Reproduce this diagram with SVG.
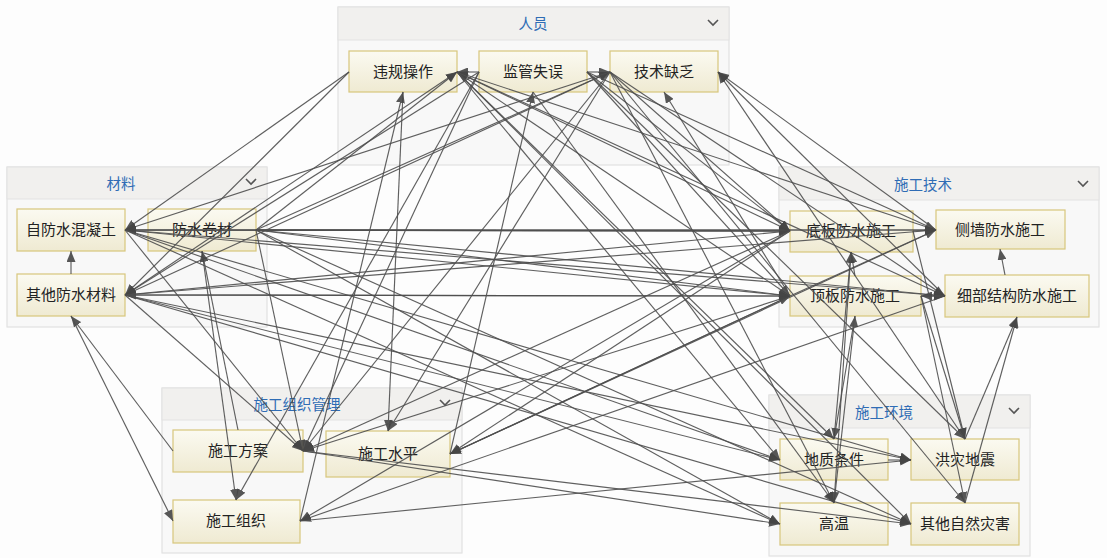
<svg xmlns="http://www.w3.org/2000/svg" width="1107" height="558" viewBox="0 0 1107 558">
<defs>
<linearGradient id="ng" x1="0" y1="0" x2="0" y2="1">
<stop offset="0" stop-color="#fbfaf1"/>
<stop offset="1" stop-color="#efead2"/>
</linearGradient>
<marker id="ah" markerUnits="userSpaceOnUse" markerWidth="11" markerHeight="9" refX="11" refY="4.5" orient="auto">
<path d="M0,0 L11,4.5 L0,9 z" fill="#454545"/>
</marker>
<style>
.panel{fill:#f8f8f8;stroke:#e2e2e2;stroke-width:1.2}
.head{fill:#f1f0ee;stroke:#e2e2e2;stroke-width:1}
.gt{font-family:"Noto Sans CJK SC","Noto Sans",sans-serif;font-size:14.5px;fill:#2f6cb5;text-anchor:middle}
.chev{fill:none;stroke:#555;stroke-width:1.6}
.node rect{fill:url(#ng);stroke:#d8c67c;stroke-width:1.2}
.node text{font-family:"Noto Sans CJK SC","Noto Sans",sans-serif;font-size:15px;fill:#222;text-anchor:middle}
#edges line{stroke:#4f4f4f;stroke-width:1.15;marker-end:url(#ah);opacity:0.9}
</style>
</defs>
<rect x="0" y="0" width="1107" height="558" fill="#fdfdfd"/>
<g id="grp-renyuan">
<rect class="panel" x="338" y="7" width="391" height="158"/>
<rect class="head" x="338" y="7" width="391" height="33"/>
<text class="gt" x="533" y="29">人员</text>
<polyline class="chev" points="708,20 713,25 718,20"/>
</g>
<g id="grp-cailiao">
<rect class="panel" x="7" y="167" width="260" height="160"/>
<rect class="head" x="7" y="167" width="260" height="32"/>
<text class="gt" x="121" y="189">材料</text>
<polyline class="chev" points="246,179 251,184 256,179"/>
</g>
<g id="grp-jishu">
<rect class="panel" x="779" y="167" width="320" height="160"/>
<rect class="head" x="779" y="167" width="320" height="33"/>
<text class="gt" x="923" y="190">施工技术</text>
<polyline class="chev" points="1078,181 1083,186 1088,181"/>
</g>
<g id="grp-zuzhi">
<rect class="panel" x="162" y="388" width="300" height="165"/>
<rect class="head" x="162" y="388" width="300" height="32"/>
<text class="gt" x="297" y="410">施工组织管理</text>
<polyline class="chev" points="440,400 445,405 450,400"/>
</g>
<g id="grp-huanjing">
<rect class="panel" x="769" y="395" width="261" height="161"/>
<rect class="head" x="769" y="395" width="261" height="33"/>
<text class="gt" x="884" y="418">施工环境</text>
<polyline class="chev" points="1009,408 1014,413 1019,408"/>
</g>
<g id="n-weigui" class="node"><rect x="349" y="51" width="108" height="41"/><text x="403" y="77">违规操作</text></g>
<g id="n-jianguan" class="node"><rect x="479" y="51" width="108" height="41"/><text x="533" y="77">监管失误</text></g>
<g id="n-jishu" class="node"><rect x="610" y="51" width="108" height="41"/><text x="664" y="77">技术缺乏</text></g>
<g id="n-zifangshui" class="node"><rect x="17" y="209" width="108" height="42"/><text x="71" y="235">自防水混凝土</text></g>
<g id="n-juancai" class="node"><rect x="148" y="209" width="108" height="42"/><text x="202" y="235">防水卷材</text></g>
<g id="n-qita" class="node"><rect x="17" y="274" width="108" height="42"/><text x="71" y="300">其他防水材料</text></g>
<g id="n-diban" class="node"><rect x="790" y="211" width="123" height="41"/><text x="851" y="236">底板防水施工</text></g>
<g id="n-ceqiang" class="node"><rect x="936" y="210" width="129" height="39"/><text x="1000" y="235">侧墙防水施工</text></g>
<g id="n-dingban" class="node"><rect x="790" y="276" width="131" height="40"/><text x="855" y="301">顶板防水施工</text></g>
<g id="n-xibu" class="node"><rect x="945" y="275" width="144" height="42"/><text x="1017" y="301">细部结构防水施工</text></g>
<g id="n-fangan" class="node"><rect x="173" y="430" width="130" height="42"/><text x="238" y="456">施工方案</text></g>
<g id="n-shuiping" class="node"><rect x="326" y="431" width="124" height="46"/><text x="388" y="459">施工水平</text></g>
<g id="n-zuzhi" class="node"><rect x="173" y="500" width="127" height="43"/><text x="236" y="526">施工组织</text></g>
<g id="n-dizhi" class="node"><rect x="780" y="439" width="108" height="41"/><text x="834" y="465">地质条件</text></g>
<g id="n-honghai" class="node"><rect x="911" y="439" width="108" height="41"/><text x="965" y="465">洪灾地震</text></g>
<g id="n-gaowen" class="node"><rect x="780" y="503" width="108" height="42"/><text x="834" y="529">高温</text></g>
<g id="n-ziran" class="node"><rect x="911" y="503" width="108" height="42"/><text x="965" y="529">其他自然灾害</text></g>
<g id="edges">
<line x1="479" y1="72" x2="457" y2="72"/>
<line x1="587" y1="72" x2="610" y2="72"/>
<line x1="349" y1="72" x2="125" y2="230"/>
<line x1="349" y1="72" x2="125" y2="295"/>
<line x1="256" y1="230" x2="457" y2="72"/>
<line x1="125" y1="295" x2="457" y2="72"/>
<line x1="256" y1="230" x2="610" y2="72"/>
<line x1="125" y1="295" x2="610" y2="72"/>
<line x1="610" y1="72" x2="125" y2="230"/>
<line x1="479" y1="72" x2="125" y2="295"/>
<line x1="125" y1="230" x2="790" y2="231"/>
<line x1="790" y1="231" x2="125" y2="230"/>
<line x1="256" y1="230" x2="790" y2="231"/>
<line x1="256" y1="230" x2="936" y2="230"/>
<line x1="125" y1="230" x2="790" y2="296"/>
<line x1="125" y1="230" x2="945" y2="296"/>
<line x1="125" y1="295" x2="790" y2="296"/>
<line x1="125" y1="295" x2="790" y2="231"/>
<line x1="790" y1="296" x2="125" y2="295"/>
<line x1="256" y1="230" x2="790" y2="296"/>
<line x1="256" y1="230" x2="945" y2="296"/>
<line x1="125" y1="295" x2="936" y2="230"/>
<line x1="936" y1="230" x2="125" y2="230"/>
<line x1="125" y1="230" x2="780" y2="460"/>
<line x1="125" y1="230" x2="911" y2="460"/>
<line x1="256" y1="230" x2="780" y2="524"/>
<line x1="256" y1="230" x2="911" y2="524"/>
<line x1="125" y1="295" x2="780" y2="460"/>
<line x1="125" y1="295" x2="911" y2="460"/>
<line x1="125" y1="295" x2="911" y2="524"/>
<line x1="125" y1="230" x2="780" y2="524"/>
<line x1="71" y1="274" x2="71" y2="251"/>
<line x1="173" y1="451" x2="71" y2="316"/>
<line x1="71" y1="316" x2="173" y2="521"/>
<line x1="125" y1="295" x2="303" y2="451"/>
<line x1="202" y1="251" x2="236" y2="500"/>
<line x1="238" y1="430" x2="202" y2="251"/>
<line x1="256" y1="230" x2="303" y2="451"/>
<line x1="125" y1="230" x2="303" y2="451"/>
<line x1="403" y1="92" x2="388" y2="431"/>
<line x1="300" y1="521" x2="403" y2="92"/>
<line x1="479" y1="72" x2="303" y2="451"/>
<line x1="610" y1="72" x2="303" y2="451"/>
<line x1="479" y1="72" x2="236" y2="500"/>
<line x1="450" y1="454" x2="533" y2="92"/>
<line x1="610" y1="72" x2="388" y2="431"/>
<line x1="790" y1="231" x2="303" y2="451"/>
<line x1="790" y1="296" x2="303" y2="451"/>
<line x1="790" y1="231" x2="450" y2="454"/>
<line x1="790" y1="296" x2="450" y2="454"/>
<line x1="450" y1="454" x2="790" y2="296"/>
<line x1="945" y1="296" x2="300" y2="521"/>
<line x1="936" y1="230" x2="450" y2="454"/>
<line x1="790" y1="231" x2="300" y2="521"/>
<line x1="303" y1="451" x2="780" y2="524"/>
<line x1="303" y1="451" x2="911" y2="524"/>
<line x1="300" y1="521" x2="911" y2="460"/>
<line x1="790" y1="231" x2="457" y2="72"/>
<line x1="790" y1="296" x2="457" y2="72"/>
<line x1="936" y1="230" x2="457" y2="72"/>
<line x1="457" y1="72" x2="945" y2="296"/>
<line x1="587" y1="72" x2="790" y2="231"/>
<line x1="587" y1="72" x2="936" y2="230"/>
<line x1="587" y1="72" x2="790" y2="296"/>
<line x1="936" y1="230" x2="718" y2="72"/>
<line x1="945" y1="296" x2="718" y2="72"/>
<line x1="790" y1="296" x2="664" y2="92"/>
<line x1="610" y1="72" x2="945" y2="296"/>
<line x1="610" y1="72" x2="790" y2="231"/>
<line x1="457" y1="72" x2="834" y2="439"/>
<line x1="587" y1="72" x2="965" y2="439"/>
<line x1="610" y1="72" x2="965" y2="503"/>
<line x1="457" y1="72" x2="780" y2="460"/>
<line x1="533" y1="92" x2="834" y2="503"/>
<line x1="610" y1="72" x2="834" y2="503"/>
<line x1="913" y1="231" x2="936" y2="230"/>
<line x1="921" y1="296" x2="945" y2="296"/>
<line x1="945" y1="296" x2="921" y2="296"/>
<line x1="855" y1="276" x2="851" y2="252"/>
<line x1="1005" y1="275" x2="1000" y2="249"/>
<line x1="790" y1="296" x2="936" y2="230"/>
<line x1="834" y1="439" x2="851" y2="252"/>
<line x1="834" y1="503" x2="855" y2="316"/>
<line x1="913" y1="231" x2="965" y2="439"/>
<line x1="921" y1="296" x2="965" y2="439"/>
<line x1="921" y1="296" x2="965" y2="503"/>
<line x1="965" y1="439" x2="1017" y2="317"/>
<line x1="965" y1="503" x2="1017" y2="317"/>
<line x1="851" y1="252" x2="834" y2="503"/>
<line x1="855" y1="316" x2="834" y2="439"/>
<line x1="888" y1="460" x2="911" y2="460"/>
<line x1="965" y1="439" x2="718" y2="72"/>
<line x1="457" y1="72" x2="911" y2="524"/>
</g>
</svg>
